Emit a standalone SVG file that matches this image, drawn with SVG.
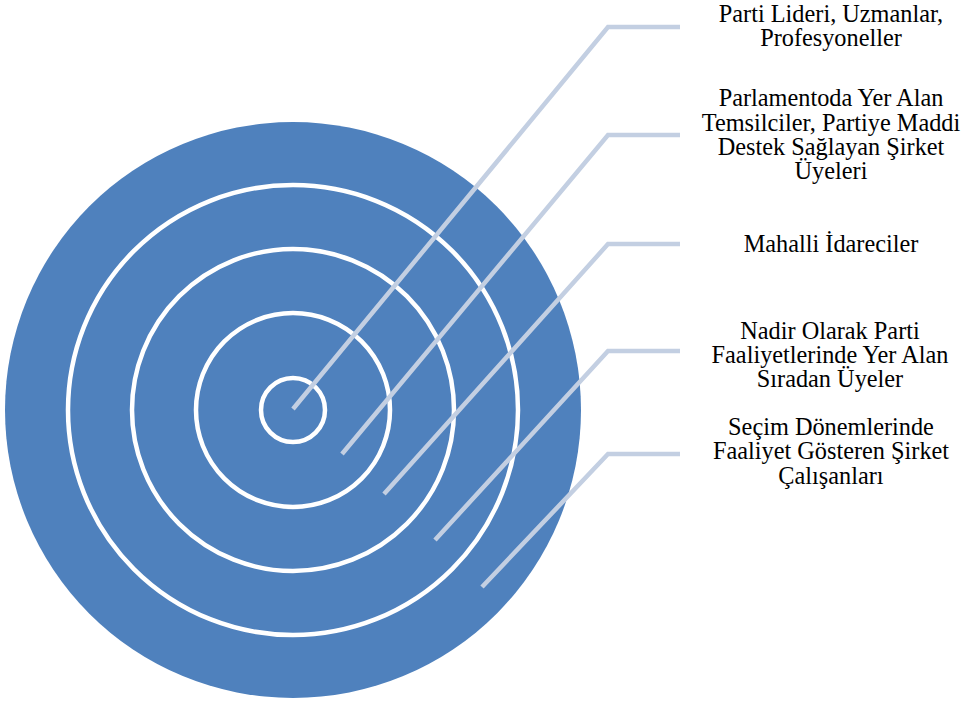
<svg xmlns="http://www.w3.org/2000/svg" width="967" height="702" viewBox="0 0 967 702">
<style>
.ring{fill:none;stroke:#FFFFFF;stroke-width:4.5}
.conn{fill:none;stroke:#C3CFE2;stroke-width:4.5;stroke-linejoin:miter}
.lbl{font-family:"Liberation Serif","Times New Roman",serif;font-size:24.3px;fill:#000000;text-anchor:middle}
</style>
<rect width="967" height="702" fill="#FFFFFF"/>
<g id="target">
<circle cx="293" cy="410" r="288" fill="#4F81BD"/>
<circle class="ring" cx="293" cy="410" r="225"/>
<circle class="ring" cx="293" cy="410" r="161"/>
<circle class="ring" cx="293" cy="410" r="97"/>
<circle class="ring" cx="293" cy="410" r="32"/>
</g>
<g id="connectors">
<polyline class="conn" points="293,409 608,27 680,27"/>
<polyline class="conn" points="342,454 608,135 680,135"/>
<polyline class="conn" points="384,494 608,244 680,244"/>
<polyline class="conn" points="435,540 608,351 680,351"/>
<polyline class="conn" points="482,587 608,454 680,454"/>
</g>
<g id="label1">
<text class="lbl" x="831" y="21.5">Parti Lideri, Uzmanlar,</text>
<text class="lbl" x="831" y="45.7">Profesyoneller</text>
</g>
<g id="label2">
<text class="lbl" x="831" y="106">Parlamentoda Yer Alan</text>
<text class="lbl" x="831" y="130.5">Temsilciler, Partiye Maddi</text>
<text class="lbl" x="831" y="155">Destek Sağlayan Şirket</text>
<text class="lbl" x="831" y="179.3">Üyeleri</text>
</g>
<g id="label3">
<text class="lbl" x="831" y="251.5">Mahalli İdareciler</text>
</g>
<g id="label4">
<text class="lbl" x="830" y="338.5">Nadir Olarak Parti</text>
<text class="lbl" x="830" y="362.5">Faaliyetlerinde Yer Alan</text>
<text class="lbl" x="830" y="386.7">Sıradan Üyeler</text>
</g>
<g id="label5">
<text class="lbl" x="831" y="435">Seçim Dönemlerinde</text>
<text class="lbl" x="831" y="459.3">Faaliyet Gösteren Şirket</text>
<text class="lbl" x="831" y="484">Çalışanları</text>
</g>
</svg>
